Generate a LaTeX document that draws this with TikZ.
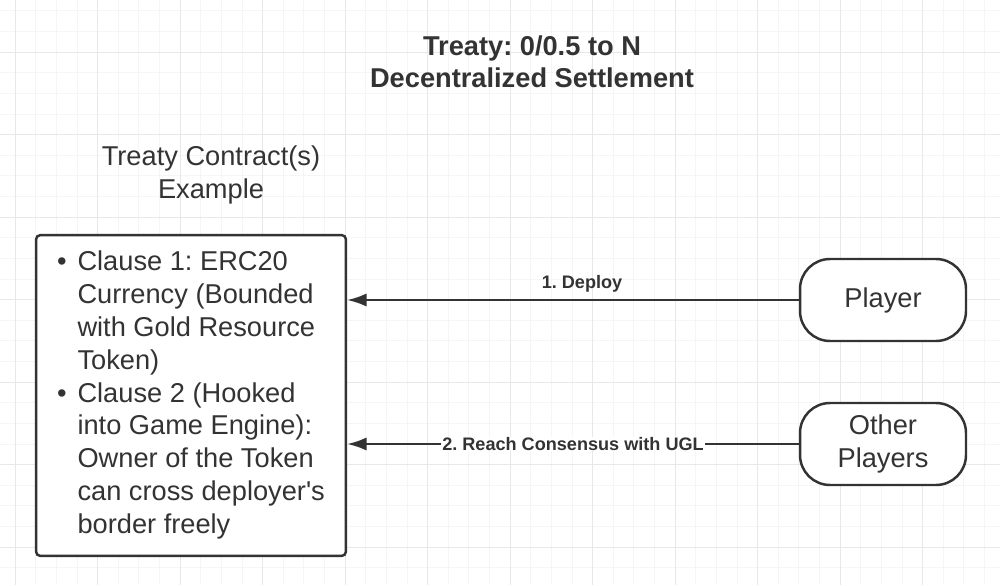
\documentclass[tikz,border=0pt]{standalone}
\usepackage{fontspec}
\setmainfont{Liberation Sans}
\usetikzlibrary{arrows.meta}
\frenchspacing
\definecolor{ink}{HTML}{333333}
\definecolor{gridmajor}{HTML}{E8E8E8}
\definecolor{gridminor}{HTML}{F5F5F5}
\tikzset{
	title/.style={font=\fontsize{15.5}{18.4}\selectfont\bfseries, text=ink, align=center},
	caption/.style={font=\fontsize{15.5}{18.4}\selectfont, text=ink, align=center},
	contract/.style={draw=ink, line width=1.4pt, rounded corners=2.5pt, fill=white, minimum width=6.2cm, minimum height=6.42cm, inner sep=0pt, text=ink, font=\fontsize{15.5}{18.7}\selectfont},
	actor/.style={draw=ink, line width=1.4pt, rounded corners=0.6cm, fill=white, minimum width=3.32cm, minimum height=1.64cm, inner sep=0pt, text=ink, align=center, font=\fontsize{15.5}{18.7}\selectfont},
	conn/.style={draw=ink, line width=1.3pt, -{Latex[length=11pt,width=7.5pt]}},
	lbl/.style={font=\fontsize{10.3}{12}\selectfont\bfseries, text=ink, inner sep=0pt},
}

\begin{document}
\begin{tikzpicture}[x=0.02cm, y=-0.02cm]
		%%%%% START %%%%%
		
		\useasboundingbox[fill=white] (0, 0) rectangle (1000, 585);
		\clip (0, 0) rectangle (1000, 585);
		
		% grid paper
		\foreach \k in {-1,...,48} \draw[gridminor, line width=0.4pt] ({15+\k*20.625}, 0) -- ({15+\k*20.625}, 585);
		\foreach \k in {-3,...,26} \draw[gridminor, line width=0.4pt] (0, {52+\k*20.625}) -- (1000, {52+\k*20.625});
		\foreach \k in {0,...,12} \draw[gridmajor, line width=0.5pt] ({15+\k*82.5}, 0) -- ({15+\k*82.5}, 585);
		\foreach \k in {-1,...,6} \draw[gridmajor, line width=0.5pt] (0, {52+\k*82.5}) -- (1000, {52+\k*82.5});
		
		\node[title] (heading) at (532, 61.5) {Treaty: 0/0.5 to N\\Decentralized Settlement};
		\node[caption] (example) at (211, 175) {Treaty Contract(s)\\Example};
		
		\node[contract] (contract) at (191, 395.5) {%
			\begin{tabular}{@{}c@{\hspace{6.2pt}}l@{}}
				\rule{0pt}{\dimexpr0.7\baselineskip+0.16cm\relax}\textbullet & Clause 1: ERC20\\
				& Currency (Bounded\\
				& with Gold Resource\\
				& Token)\\
				\textbullet & Clause 2 (Hooked\\
				& into Game Engine):\\
				& Owner of the Token\\
				& can cross deployer\textquotesingle s\\
				& border freely
			\end{tabular}};
		
		\node[actor] (player) at (883, 300) {Player};
		\node[actor] (others) at (883, 444) {Other\\Players};
		
		\draw[conn] (player.west) -- (player.west -| contract.east) node[lbl, pos=0.48, above=3.8pt] {1. Deploy};
		\draw[conn] (others.west) -- (others.west -| contract.east) node[lbl, pos=0.5, fill=white, inner xsep=1pt] {2. Reach Consensus with UGL};
		
		%%%%% END %%%%%
	\end{tikzpicture}
\end{document}
